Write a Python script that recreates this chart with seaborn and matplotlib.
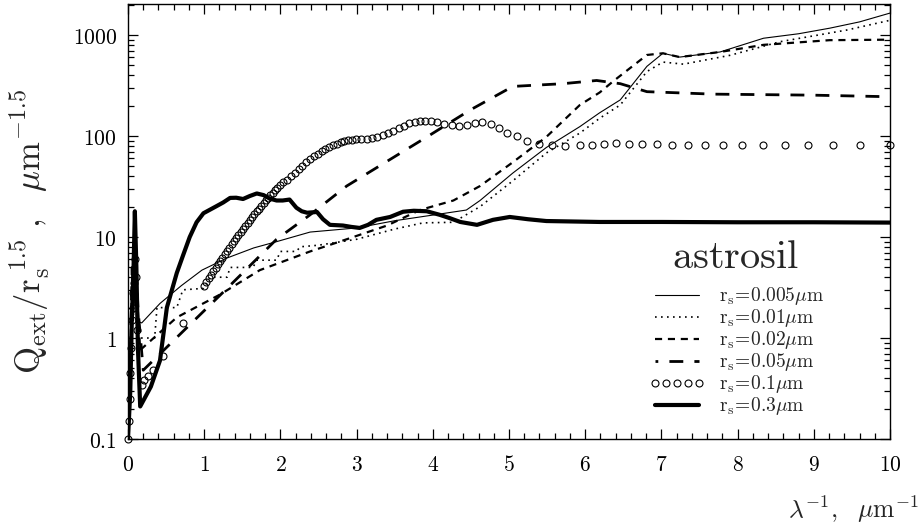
import numpy as np
import matplotlib
matplotlib.use('Agg')
import matplotlib.pyplot as plt
import seaborn as sns
from matplotlib.ticker import FixedLocator, FixedFormatter, NullFormatter

# r_s = 0.005 um (thin solid)
x_005 = [0.0, 0.03, 0.055, 0.07, 0.09, 0.11, 0.14, 0.18, 0.42, 0.7, 0.97, 1.3, 1.65, 1.95, 2.39, 3.0,
         3.5, 4.0, 4.44, 4.62, 5.05, 5.49, 5.93, 6.19, 6.46, 6.81, 7.02, 7.24, 7.77, 8.34, 8.8, 9.21, 9.6, 10.0]
y_005 = [0.1, 0.6, 3.5, 1.5, 7.5, 3.0, 1.45, 1.41, 2.2, 3.3, 4.7, 6.2, 7.8, 9.0, 11.2, 12.3,
         14.5, 16.5, 18.5, 23, 43, 77, 124, 170, 228, 490, 660, 605, 680, 930, 1030, 1170, 1350, 1650]

# r_s = 0.01 um (dotted)
x_01 = [0.0, 0.03, 0.055, 0.07, 0.09, 0.11, 0.13, 0.35, 0.38, 0.64, 0.72, 0.99, 1.08, 1.3, 1.34, 1.64,
        1.69, 1.95, 2.0, 2.21, 2.26, 2.5, 3.0, 3.5, 3.87, 4.27, 4.62, 5.05, 5.49, 5.93, 6.19, 6.46,
        6.81, 7.02, 7.29, 7.9, 8.56, 9.43, 10.0]
y_01 = [0.1, 0.6, 4.0, 1.5, 8.5, 3.0, 1.0, 1.0, 2.0, 2.0, 3.0, 3.1, 4.0, 4.0, 5.0, 5.0,
        5.9, 5.9, 7.2, 7.2, 8.0, 8.3, 9.5, 12.0, 13.8, 14.0, 20, 36, 68, 107, 150, 203,
        435, 540, 515, 630, 860, 1120, 1400]

# r_s = 0.02 um (short dashes)
x_02 = [0.0, 0.03, 0.055, 0.07, 0.095, 0.12, 0.16, 0.64, 1.21, 1.73, 2.39, 2.87, 3.4, 3.83, 4.27,
        4.62, 5.05, 5.49, 5.93, 6.19, 6.37, 6.81, 7.02, 7.24, 7.77, 8.34, 9.21, 10.0]
y_02 = [0.1, 0.6, 4.5, 1.8, 9.0, 2.5, 0.76, 1.6, 2.7, 4.7, 7.2, 9.5, 13, 18.5, 23,
        32, 55, 98, 203, 270, 350, 635, 660, 605, 680, 800, 890, 900]

# r_s = 0.05 um (long dashes)
x_05 = [0.0, 0.03, 0.055, 0.07, 0.095, 0.13, 0.2, 0.72, 1.3, 1.95, 2.39, 2.87, 3.96, 4.49, 5.05,
        5.71, 6.15, 6.46, 6.81, 7.68, 8.99, 10.0]
y_05 = [0.1, 0.7, 5.0, 2.0, 10.0, 2.0, 0.48, 1.16, 3.1, 9.5, 16.6, 32, 102, 181, 310,
        330, 355, 330, 275, 260, 254, 245]

# r_s = 0.1 um (open circles)
x_1 = [0.0, 0.01, 0.02, 0.03, 0.04, 0.05, 0.06, 0.07, 0.08, 0.09, 0.1, 0.12,
       0.18, 0.21, 0.26, 0.33, 0.46, 0.72,
       1.00, 1.03, 1.06, 1.09, 1.12, 1.15, 1.18, 1.21, 1.24, 1.27, 1.30, 1.33, 1.36, 1.39, 1.42,
       1.45, 1.48, 1.51, 1.54, 1.57, 1.60, 1.63, 1.66, 1.69, 1.72, 1.75, 1.78, 1.81, 1.84, 1.87,
       1.90, 1.93, 1.96, 1.99,
       2.04, 2.09, 2.14, 2.19, 2.24, 2.29, 2.34, 2.39, 2.44, 2.49, 2.54, 2.59, 2.64, 2.69, 2.74,
       2.79, 2.84, 2.89, 2.94, 2.99,
       3.06, 3.13, 3.20, 3.27, 3.34, 3.41, 3.48, 3.55, 3.62, 3.69, 3.76, 3.83, 3.90, 3.97,
       4.06, 4.15, 4.25, 4.35, 4.45, 4.55, 4.65, 4.76, 4.87, 4.98,
       5.10, 5.24, 5.40, 5.56, 5.74,
       5.93, 6.09, 6.25, 6.41, 6.58, 6.75, 6.94, 7.14, 7.35, 7.57, 7.81, 8.06, 8.33, 8.62, 8.93,
       9.25, 9.61, 10.0]
y_1 = [0.1, 0.15, 0.25, 0.45, 0.8, 1.5, 2.8, 2.0, 3.5, 6.0, 4.0, 1.2,
       0.34, 0.38, 0.42, 0.48, 0.66, 1.4,
       3.31, 3.60, 3.90, 4.23, 4.58, 4.96, 5.36, 5.80, 6.26, 6.75, 7.28, 7.84, 8.44, 9.07, 9.74,
       10.5, 11.2, 12.0, 12.9, 13.8, 14.7, 15.7, 16.8, 17.9, 19.1, 20.3, 21.6, 23.0, 24.4, 25.9,
       27.4, 29.0, 30.7, 32.5,
       34.7, 37, 40, 43, 47, 51, 55, 59, 63, 67, 71, 74, 78, 81, 84,
       87, 89, 91, 92, 93,
       93, 94, 95, 98, 103, 108, 113, 119, 127, 134, 139, 142, 142, 140,
       137, 133, 128, 126, 129, 136, 138, 132, 120, 108,
       99, 90, 84, 81, 80,
       81, 82, 84, 85, 84, 84, 83, 82, 82, 82, 82, 82, 82, 82, 82,
       82, 82, 81]

# r_s = 0.3 um (thick solid)
x_3 = [0.0, 0.03, 0.05, 0.07, 0.09, 0.11, 0.13, 0.16, 0.3, 0.42, 0.51, 0.64, 0.72, 0.81, 0.9,
       0.99, 1.15, 1.25, 1.34, 1.42, 1.51, 1.6, 1.69, 1.78, 1.86, 1.95, 2.03, 2.12, 2.21, 2.28,
       2.35, 2.48, 2.56, 2.65, 2.82, 2.93, 3.04, 3.15, 3.26, 3.44, 3.61, 3.75, 3.92, 4.09, 4.22,
       4.36, 4.58, 4.79, 5.01, 5.25, 5.49, 6.19, 7.0, 8.0, 9.0, 10.0]
y_3 = [0.1, 0.3, 1.5, 4.0, 18.0, 5.0, 0.8, 0.21, 0.33, 0.6, 2.0, 4.4, 6.5, 10.0, 14.0,
       17.2, 20, 22, 24.4, 24.5, 23.8, 25.5, 27, 26, 24, 23, 23, 23.5, 19.5, 18,
       17.4, 17.7, 15, 13.2, 13, 12.6, 12.3, 13.2, 14.8, 15.8, 17.8, 18.2, 18, 16.6, 15.4,
       14.1, 13.2, 14.8, 15.8, 15.0, 14.4, 14.1, 14.1, 14.0, 14.0, 13.9]

labels = [r'$\mathrm{r_s\!=\!0.005\mu m}$', r'$\mathrm{r_s\!=\!0.01\mu m}$',
          r'$\mathrm{r_s\!=\!0.02\mu m}$', r'$\mathrm{r_s\!=\!0.05\mu m}$',
          r'$\mathrm{r_s\!=\!0.1\mu m}$', r'$\mathrm{r_s\!=\!0.3\mu m}$']

x_ticks = [0, 1, 2, 3, 4, 5, 6, 7, 8, 9, 10]
y_ticks = [0.1, 1, 10, 100, 1000]
y_ticklabels = ['0.1', '1', '10', '100', '1000']

sns.set_style('ticks')
plt.rcParams['mathtext.fontset'] = 'cm'
plt.rcParams['font.family'] = ['DejaVu Serif']

fig = plt.figure(figsize=(9.22, 5.25), dpi=100)
ax = fig.add_axes([128 / 922, 1 - 439 / 525, 762 / 922, 435 / 525])
ax.set_yscale('log')

sns.lineplot(x=x_005, y=y_005, ax=ax, color='black', lw=0.8, estimator=None, sort=False,
             label=labels[0])
sns.lineplot(x=x_01, y=y_01, ax=ax, color='black', lw=1.2, estimator=None, sort=False,
             linestyle=(0, (1.0, 2.6)), label=labels[1])
sns.lineplot(x=x_02, y=y_02, ax=ax, color='black', lw=1.6, estimator=None, sort=False,
             linestyle=(0, (3.2, 2.6)), label=labels[2])
sns.lineplot(x=x_05, y=y_05, ax=ax, color='black', lw=2.0, estimator=None, sort=False,
             linestyle=(4, (5.0, 4.0)), label=labels[3])
sns.lineplot(x=x_1, y=y_1, ax=ax, color='black', estimator=None, sort=False,
             linestyle='none', marker='o', markersize=5, markerfacecolor='none',
             markeredgecolor='black', markeredgewidth=0.8, clip_on=False, label=labels[4])
sns.lineplot(x=x_3, y=y_3, ax=ax, color='black', lw=3.0, estimator=None, sort=False,
             label=labels[5])

ax.set_xlim(0, 10)
ax.set_ylim(0.1, 2030)

ax.xaxis.set_major_locator(FixedLocator(x_ticks))
ax.xaxis.set_major_formatter(FixedFormatter([r'$\mathbf{%d}$' % v for v in x_ticks]))
ax.xaxis.set_minor_locator(FixedLocator(np.arange(0, 10.01, 0.2)))
ax.yaxis.set_major_locator(FixedLocator(y_ticks))
ax.yaxis.set_major_formatter(FixedFormatter([r'$\mathbf{%s}$' % s for s in y_ticklabels]))
ax.yaxis.set_minor_locator(FixedLocator([m * d for d in [0.1, 1, 10, 100, 1000] for m in range(2, 10)]))
ax.yaxis.set_minor_formatter(NullFormatter())

ax.tick_params(which='both', direction='in', top=True, right=True, colors='black', width=0.9)
ax.tick_params(which='major', length=7)
ax.tick_params(which='minor', length=4.5)
ax.tick_params(axis='x', which='major', labelsize=15.5, pad=11)
ax.tick_params(axis='y', which='major', labelsize=15.5, pad=8)
for s in ax.spines.values():
    s.set_linewidth(1.0)
    s.set_color('black')

ax.set_ylabel(r'$\mathrm{Q_{ext}/r_s^{\ 1.5}\ ,\ \ \mu m^{-1.5}}$', fontsize=25)
ax.yaxis.set_label_coords(-0.1, 0.476)
ax.set_xlabel(r'$\lambda^{-1},\ \ \mu\mathrm{m}^{-1}$', fontsize=18.5, ha='right')
ax.xaxis.set_label_coords(1.037, -0.125)

# material name above the legend
ax.text((735 - 128) / 762, (439 - 258) / 435, r'$\mathrm{astrosil}$', transform=ax.transAxes,
        ha='center', va='center', fontsize=29)
leg = ax.legend(loc='upper left', bbox_to_anchor=(0.668, 0.38), frameon=False,
                fontsize=14, handlelength=2.9, handletextpad=0.7, labelspacing=0.0,
                borderpad=0.1, numpoints=5)

fig.savefig('out.png', dpi=100)
